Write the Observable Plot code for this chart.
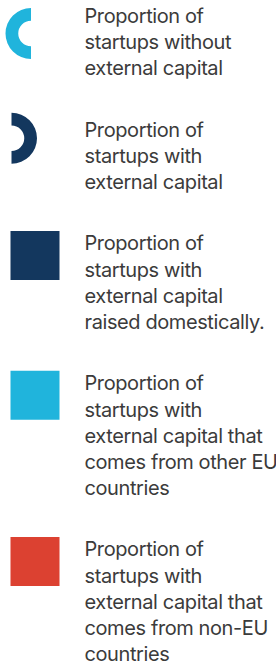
<!DOCTYPE html>
<html>
<head>
<meta charset="utf-8">
<script src="https://cdn.jsdelivr.net/npm/d3@7"></script>
<script src="https://cdn.jsdelivr.net/npm/@observablehq/plot@0.6"></script>
<style>
  html, body { margin: 0; padding: 0; background: #fff; }
  #chart { width: 276px; height: 668px; }
</style>
</head>
<body>
<div id="chart"></div>
<script>
// ---- data ----
const keys = ["without", "with", "domestic", "otherEU", "nonEU"];
const labels = [
  "Proportion of\nstartups without\nexternal capital",
  "Proportion of\nstartups with\nexternal capital",
  "Proportion of\nstartups with\nexternal capital\nraised domestically.",
  "Proportion of\nstartups with\nexternal capital that\ncomes from other EU\ncountries",
  "Proportion of\nstartups with\nexternal capital that\ncomes from non-EU\ncountries"
];
const shapes = ["arcLeft", "arcRight", "square", "square", "square"];
const colors = ["#20b4dc", "#13375e", "#13375e", "#20b4dc", "#dc4131"];

// ---- layout (computed) ----
const W = 276, H = 668;
const FS = 20, LH = 26.2, GAP = 35.1, FIRST_BASELINE = 22.5;
const R_ARC = 25.5, SQ = 49, SYM_LEFT = 10, TEXT_X = 84;

let baseline = FIRST_BASELINE;
const items = keys.map((key, i) => {
  const lines = labels[i].split("\n");
  const b = baseline;
  baseline += lines.length * LH + GAP;
  const shape = shapes[i];
  let cx, cy;
  if (shape === "arcLeft") { cx = SYM_LEFT - 5 + R_ARC; cy = b + 10.5; }
  else if (shape === "arcRight") { cx = SYM_LEFT + 1; cy = b + 1.5; }
  else { cx = SYM_LEFT + SQ / 2; cy = b + 5; }
  return {key, lines, shape, baseline: b, cx, cy};
});
const textLines = items.flatMap(d => d.lines.map((line, j) => ({
  key: d.key, line, x: TEXT_X, y: d.baseline + j * LH - 0.71 * FS
})));

// custom half-ring symbols
const halfRing = (side) => ({
  draw(context, size) {
    const R = Math.sqrt(size / Math.PI), r = R * 0.5;
    const ccw = side === "left";
    context.moveTo(0, -R);
    context.arc(0, 0, R, -Math.PI / 2, Math.PI / 2, ccw);
    context.lineTo(0, r);
    context.arc(0, 0, r, Math.PI / 2, -Math.PI / 2, !ccw);
    context.closePath();
  }
});

const plot = Plot.plot({
  width: W,
  height: H,
  margin: 0,
  x: {type: "identity", axis: null},
  y: {type: "identity", axis: null},
  color: {domain: keys, range: colors},
  style: {fontFamily: "Inter, 'Noto Sans', sans-serif", fontSize: FS + "px", letterSpacing: "-0.4px", background: "#fff"},
  marks: [
    Plot.dot(items.filter(d => d.shape === "arcLeft"), {x: "cx", y: "cy", r: R_ARC, symbol: halfRing("left"), fill: "key", stroke: null}),
    Plot.dot(items.filter(d => d.shape === "arcRight"), {x: "cx", y: "cy", r: R_ARC, symbol: halfRing("right"), fill: "key", stroke: null}),
    Plot.dot(items.filter(d => d.shape === "square"), {x: "cx", y: "cy", r: SQ / Math.sqrt(Math.PI), symbol: "square", fill: "key", stroke: null}),
    Plot.text(textLines, {x: "x", y: "y", text: "line", textAnchor: "start", lineAnchor: "top", fontSize: FS, fill: "#3b3b3b"})
  ]
});
document.getElementById("chart").appendChild(plot);
</script>
</body>
</html>
